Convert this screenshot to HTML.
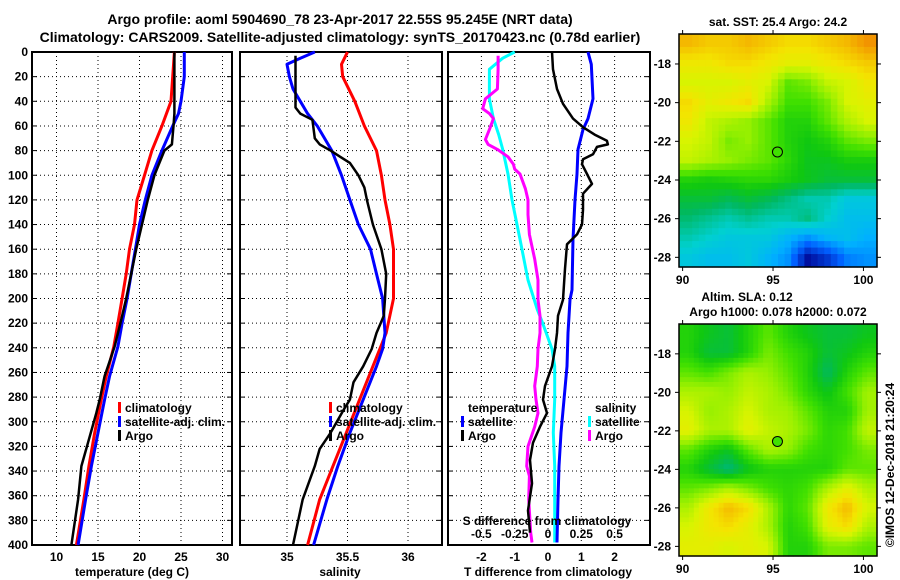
<!DOCTYPE html>
<html><head><meta charset="utf-8"><style>
html,body{margin:0;padding:0;background:#fff}
svg{display:block}
text{font-family:"Liberation Sans",sans-serif;font-weight:bold;fill:#000}
</style></head><body>
<svg id="chart" width="900" height="580" viewBox="0 0 900 580" xmlns="http://www.w3.org/2000/svg">
<rect width="900" height="580" fill="#fff"/>
<text x="340" y="24" font-size="14" text-anchor="middle">Argo profile: aoml 5904690_78 23-Apr-2017 22.55S 95.245E (NRT data)</text>
<text x="340" y="42" font-size="14" text-anchor="middle">Climatology: CARS2009. Satellite-adjusted climatology: synTS_20170423.nc (0.78d earlier)</text>
<text x="778" y="26" font-size="12" text-anchor="middle">sat. SST: 25.4 Argo: 24.2</text>
<text x="747" y="301" font-size="12" text-anchor="middle">Altim. SLA: 0.12</text>
<text x="778" y="316" font-size="12" text-anchor="middle">Argo h1000: 0.078 h2000: 0.072</text>
<text transform="translate(894,465) rotate(-90)" font-size="12" font-weight="normal" text-anchor="middle">©IMOS 12-Dec-2018 21:20:24</text>
<g id="g"></g>
</svg>
<script>
// ---- Depth ticks
const depthTicks = [0,20,40,60,80,100,120,140,160,180,200,220,240,260,280,300,320,340,360,380,400];
// ---- Temperature panel data
const tempTicks = [10,15,20,25,30];
const tClimDepth = [0,40,60,80,100,120,140,160,180,200,220,239,263,282,309,336,363,400];
const tClimVal   = [24.2,23.8,22.7,21.5,20.6,19.7,19.4,18.8,18.4,17.9,17.4,16.9,16.0,15.4,14.6,13.9,13.3,12.4];
const tSatDepth  = [0,20,40,50,60,80,100,120,140,160,180,200,220,239,263,282,309,336,363,400];
const tSatVal    = [25.4,25.4,25.0,24.7,24.0,22.7,21.5,20.7,20.0,19.5,19.0,18.5,17.9,17.4,16.4,15.8,15.0,14.2,13.5,12.6];
const tArgoDepth = [0,50,60,75,80,90,100,120,140,160,180,200,220,239,263,282,293,317,336,363,400];
const tArgoVal   = [24.2,24.2,24.1,23.9,23.0,22.4,21.8,21.0,20.3,19.6,19.0,18.4,17.7,17.0,15.8,15.2,14.8,13.8,13.0,12.6,11.8];
// ---- Salinity panel data
const salTicks = [35,35.5,36];
const sClimDepth = [0,10,20,40,60,80,100,120,140,160,180,200,228,255,282,309,336,363,400];
const sClimVal   = [35.50,35.45,35.46,35.56,35.64,35.74,35.78,35.81,35.85,35.88,35.88,35.88,35.82,35.71,35.60,35.49,35.38,35.27,35.17];
const sSatDepth  = [0,5,10,20,30,40,50,60,80,100,120,140,160,180,200,228,241,255,282,309,336,363,400];
const sSatVal    = [35.23,35.11,35.0,35.02,35.05,35.11,35.17,35.25,35.37,35.45,35.52,35.59,35.69,35.74,35.79,35.81,35.79,35.74,35.63,35.52,35.42,35.33,35.22];
const sArgoDepth = [3,45,50,55,70,75,80,85,90,100,110,120,140,160,180,200,214,228,241,255,268,282,290,309,322,336,363,400];
const sArgoVal   = [35.07,35.07,35.11,35.21,35.23,35.27,35.36,35.44,35.52,35.59,35.64,35.66,35.71,35.78,35.82,35.81,35.80,35.74,35.70,35.63,35.55,35.52,35.47,35.36,35.27,35.23,35.13,35.05];
// ---- Difference panel data
const tdiffTicks = [-2,-1,0,1,2];
const sdiffTickLabels = ["-0.5","-0.25","0","0.25","0.5"];
const dTSatDepth = [0,10,38,54,63,79,99,120,152,193,201,228,255,282,309,336,363,398];
const dTSatVal   = [1.2,1.3,1.35,1.2,1.05,0.9,0.87,0.81,0.75,0.72,0.66,0.6,0.57,0.48,0.39,0.33,0.30,0.27];
const dTArgoDepth = [0,14,30,42,54,61,67,72,75,77,83,87,91,99,107,115,128,140,148,156,176,201,214,228,241,255,271,282,293,304,317,331,350,372,390];
const dTArgoVal   = [0.12,0.15,0.27,0.45,0.75,1.05,1.4,1.77,1.8,1.47,1.35,1.05,1.02,1.17,1.32,1.05,1.05,1.02,0.87,0.57,0.51,0.45,0.3,0.27,0.21,0.12,-0.09,-0.15,-0.03,-0.24,-0.45,-0.54,-0.48,-0.6,-0.54];
const dSSatDepth = [0,5,14,38,54,67,79,99,120,152,185,209,220,241,255,282,309,336,363,398];
const dSSatVal   = [-0.25,-0.34,-0.44,-0.44,-0.41,-0.37,-0.34,-0.30,-0.27,-0.21,-0.15,-0.08,-0.04,0.03,0.05,0.05,0.04,0.05,0.05,0.05];
const dSArgoDepth = [3,14,30,38,46,50,54,63,71,75,79,85,91,95,99,111,120,132,148,168,185,201,214,228,241,255,271,282,293,304,320,336,344,363,390,398];
const dSArgoVal   = [-0.375,-0.375,-0.38,-0.47,-0.49,-0.44,-0.41,-0.44,-0.47,-0.45,-0.38,-0.30,-0.26,-0.25,-0.21,-0.17,-0.15,-0.15,-0.14,-0.10,-0.075,-0.075,-0.06,-0.06,-0.075,-0.08,-0.10,-0.09,-0.075,-0.10,-0.15,-0.16,-0.14,-0.145,-0.13,-0.12];
// ---- Map data (colour index 0..1), rows top(-16.5) to bottom(-28.5), cols 90..100.7
const sstGrid = [
[0.80,0.78,0.78,0.80,0.78,0.76,0.76,0.78,0.80,0.84],
[0.74,0.74,0.76,0.76,0.74,0.72,0.72,0.74,0.76,0.78],
[0.70,0.70,0.70,0.72,0.70,0.60,0.62,0.68,0.70,0.74],
[0.76,0.72,0.74,0.76,0.66,0.58,0.58,0.62,0.70,0.72],
[0.74,0.68,0.66,0.64,0.60,0.55,0.55,0.60,0.66,0.70],
[0.70,0.68,0.62,0.64,0.60,0.55,0.53,0.55,0.60,0.62],
[0.68,0.66,0.64,0.62,0.60,0.56,0.52,0.52,0.54,0.54],
[0.55,0.54,0.55,0.56,0.56,0.54,0.52,0.50,0.50,0.50],
[0.50,0.50,0.48,0.50,0.48,0.45,0.42,0.42,0.38,0.38],
[0.46,0.44,0.42,0.44,0.42,0.42,0.45,0.40,0.36,0.36],
[0.42,0.40,0.38,0.38,0.38,0.34,0.30,0.34,0.36,0.33],
[0.38,0.36,0.36,0.38,0.34,0.30,0.15,0.20,0.28,0.30]];
const slaGrid = [
[0.55,0.52,0.50,0.55,0.60,0.55,0.52,0.50,0.50,0.52],
[0.55,0.50,0.50,0.55,0.62,0.58,0.55,0.50,0.52,0.55],
[0.60,0.58,0.62,0.66,0.64,0.60,0.55,0.47,0.55,0.60],
[0.66,0.66,0.64,0.68,0.66,0.62,0.56,0.52,0.58,0.65],
[0.70,0.64,0.66,0.70,0.66,0.65,0.60,0.55,0.55,0.65],
[0.72,0.66,0.66,0.72,0.68,0.66,0.62,0.56,0.58,0.68],
[0.60,0.55,0.52,0.60,0.66,0.64,0.58,0.56,0.58,0.62],
[0.55,0.50,0.45,0.52,0.55,0.55,0.55,0.55,0.60,0.60],
[0.60,0.62,0.66,0.62,0.58,0.56,0.58,0.66,0.72,0.66],
[0.66,0.74,0.80,0.76,0.66,0.56,0.60,0.74,0.80,0.70],
[0.70,0.74,0.76,0.72,0.66,0.55,0.58,0.72,0.76,0.66],
[0.72,0.72,0.70,0.72,0.70,0.55,0.55,0.62,0.62,0.60]];
const latTicks = [-18,-20,-22,-24,-26,-28];
const lonTicks = [90,95,100];
const argoLon = 95.245, argoLat = -22.55;

const NS="http://www.w3.org/2000/svg";
const G=document.getElementById('g');
function el(tag,attrs,parent){const e=document.createElementNS(NS,tag);for(const k in attrs)e.setAttribute(k,attrs[k]);(parent||G).appendChild(e);return e;}
function txt(s,x,y,size,anchor,parent){const t=el('text',{x:x,y:y,'font-size':size,'text-anchor':anchor||'middle'},parent);t.textContent=s;return t;}

const TOP=52, BOT=545;
function yD(d){return TOP+(d/400)*(BOT-TOP);}
const xT=v=>56.5+(v-10)*8.3;
const xS=v=>287+(v-35)*121;
const xTd=v=>548+v*33.3;
const xSd=v=>548+v*133.2;

function panel(name,x0,x1,gridX){
  const g=el('g',{});
  
  
  depthTicks.forEach(d=>{ if(d>0&&d<400) el('line',{x1:x0,x2:x1,y1:yD(d),y2:yD(d),stroke:'#000','stroke-width':1,'stroke-dasharray':'1,3'},g);});
  gridX.forEach(x=>el('line',{x1:x,x2:x,y1:TOP,y2:BOT,stroke:'#000','stroke-width':1,'stroke-dasharray':'1,3'},g));
  depthTicks.forEach(d=>{el('line',{x1:x0,x2:x0+5,y1:yD(d),y2:yD(d),stroke:'#000'},g);el('line',{x1:x1-5,x2:x1,y1:yD(d),y2:yD(d),stroke:'#000'},g);});
  el('rect',{x:x0,y:TOP,width:x1-x0,height:BOT-TOP,fill:'none',stroke:'#000','stroke-width':2},g);
  return g;
}
function line(name,depths,vals,xf,color,w,parent){
  const pts=depths.map((d,i)=>xf(vals[i]).toFixed(1)+','+yD(d).toFixed(1)).join(' ');
  const p=el('polyline',{points:pts,fill:'none',stroke:color,'stroke-width':w,'stroke-linejoin':'round'},parent);
  
  
}
function legendItem(name,x,y,color,label){
  const r=el('rect',{x:x,y:y-10,width:3,height:11,fill:color});
  
  
  const t=txt(label,x+7,y,12,'start');
  
  
}

depthTicks.forEach(d=>{const t=txt(String(d),28,yD(d)+4,12,'end');
  
  });

// Panel 1
const p1=panel('temperature-panel',32,232,tempTicks.map(xT));
line('temp-climatology-line',tClimDepth,tClimVal,xT,'#ff0000',3,p1);
line('temp-satellite-line',tSatDepth,tSatVal,xT,'#0000ff',3,p1);
line('temp-argo-line',tArgoDepth,tArgoVal,xT,'#000',2.5,p1);
tempTicks.forEach(v=>{const t=txt(String(v),xT(v),561,12);
  
  });
{const t=txt('temperature (deg C)',132,576,12);}
legendItem('legend-climatology',118,412,'#ff0000','climatology');
legendItem('legend-satellite-adj',118,426,'#0000ff','satellite-adj. clim.');
legendItem('legend-argo',118,440,'#000','Argo');

// Panel 2
const p2=panel('salinity-panel',240,442,salTicks.map(xS));
line('sal-climatology-line',sClimDepth,sClimVal,xS,'#ff0000',3,p2);
line('sal-satellite-line',sSatDepth,sSatVal,xS,'#0000ff',3,p2);
line('sal-argo-line',sArgoDepth,sArgoVal,xS,'#000',2.5,p2);
salTicks.forEach(v=>{const t=txt(String(v),xS(v),561,12);
  
  });
{const t=txt('salinity',340,576,12);}
legendItem('legend-sal-climatology',329,412,'#ff0000','climatology');
legendItem('legend-sal-satellite-adj',329,426,'#0000ff','satellite-adj. clim.');
legendItem('legend-sal-argo',329,440,'#000','Argo');

// Panel 3
const p3=panel('difference-panel',448,650,tdiffTicks.map(xTd));
line('sdiff-satellite-line',dSSatDepth,dSSatVal,xSd,'#00ffff',3,p3);
line('sdiff-argo-line',dSArgoDepth,dSArgoVal,xSd,'#ff00ff',3,p3);
line('tdiff-satellite-line',dTSatDepth,dTSatVal,xTd,'#0000ff',3,p3);
line('tdiff-argo-line',dTArgoDepth,dTArgoVal,xTd,'#000',2.5,p3);
tdiffTicks.forEach(v=>{const t=txt(String(v),xTd(v),561,12);
  
  });
sdiffTickLabels.forEach((s,i)=>{const t=txt(s,xTd(tdiffTicks[i]),538,12);
  
  });
{const t=txt('S difference from climatology',547,525,12);}
{const t=txt('T difference from climatology',548,576,12);}
{const t=txt('temperature',468,412,12,'start');}
{const t=txt('salinity',595,412,12,'start');}
legendItem('legend-tdiff-satellite',461,426,'#0000ff','satellite');
legendItem('legend-tdiff-argo',461,440,'#000','Argo');
legendItem('legend-sdiff-satellite',588,426,'#00ffff','satellite');
legendItem('legend-sdiff-argo',588,440,'#ff00ff','Argo');

// Colormap
const cmapStops=[[0.0,[0,0,130]],[0.15,[0,16,160]],[0.25,[0,96,255]],[0.33,[0,176,255]],[0.40,[0,208,208]],[0.47,[0,184,96]],[0.53,[16,200,16]],[0.58,[64,224,0]],[0.64,[150,240,0]],[0.70,[216,244,0]],[0.75,[244,228,0]],[0.80,[244,184,0]],[0.88,[240,112,0]],[1.0,[240,0,0]]];
function cmap(v){for(let i=1;i<cmapStops.length;i++){if(v<=cmapStops[i][0]){const a=cmapStops[i-1],b=cmapStops[i];const f=(v-a[0])/(b[0]-a[0]);const c=a[1].map((x,k)=>Math.round(x+(b[1][k]-x)*f));return 'rgb('+c.join(',')+')';}}return 'rgb(240,0,0)';}

function sample(grid,fr,fc){
  const R=grid.length-1, C=grid[0].length-1;
  fr=Math.max(0,Math.min(R,fr)); fc=Math.max(0,Math.min(C,fc));
  const r0=Math.floor(fr), c0=Math.floor(fc), r1=Math.min(R,r0+1), c1=Math.min(C,c0+1);
  const a=fr-r0, b=fc-c0;
  return grid[r0][c0]*(1-a)*(1-b)+grid[r0][c1]*(1-a)*b+grid[r1][c0]*a*(1-b)+grid[r1][c1]*a*b;
}

function map(name,grid,x0,y0,y1,sub){
  const x1=877, LON0=89.8, LON1=100.75, LAT0=-16.45, LAT1=-28.5;
  const lx=v=>x0+(v-LON0)/(LON1-LON0)*(x1-x0);
  const ly=v=>y0+(v-LAT0)/(LAT1-LAT0)*(y1-y0);
  const g=el('g',{});
  
  
  const rows=grid.length*sub, cols=grid[0].length*sub;
  const cw=(x1-x0)/cols, ch=(y1-y0)/rows;
  for(let r=0;r<rows;r++)for(let c=0;c<cols;c++){
    const v=sample(grid,(r+0.5)/sub-0.5,(c+0.5)/sub-0.5);
    const cell=el('rect',{x:(x0+c*cw).toFixed(2),y:(y0+r*ch).toFixed(2),width:(cw+0.6).toFixed(2),height:(ch+0.6).toFixed(2),fill:cmap(v)},g);
    
    
  }
  el('rect',{x:x0,y:y0,width:x1-x0,height:y1-y0,fill:'none',stroke:'#000','stroke-width':1.5},g);
  latTicks.forEach(v=>{el('line',{x1:x0-4,x2:x0,y1:ly(v),y2:ly(v),stroke:'#000'},g);el('line',{x1:x1,x2:x1+4,y1:ly(v),y2:ly(v),stroke:'#000'},g);
    const t=txt(String(v),x0-8,ly(v)+4,12,'end',g);
    
    });
  lonTicks.forEach(v=>{el('line',{x1:lx(v),x2:lx(v),y1:y1,y2:y1+4,stroke:'#000'},g);el('line',{x1:lx(v),x2:lx(v),y1:y0-4,y2:y0,stroke:'#000'},g);
    const t=txt(String(v),lx(v),y1+17,12,'middle',g);
    
    });
  const m=el('circle',{cx:lx(argoLon),cy:ly(argoLat),r:5,fill:cmap(0.58),stroke:'#000','stroke-width':1},g);
  
  
}
map('sst-map',sstGrid,679,34,267,3);
map('sla-map',slaGrid,679,324,556,4);
</script>
</body></html>
